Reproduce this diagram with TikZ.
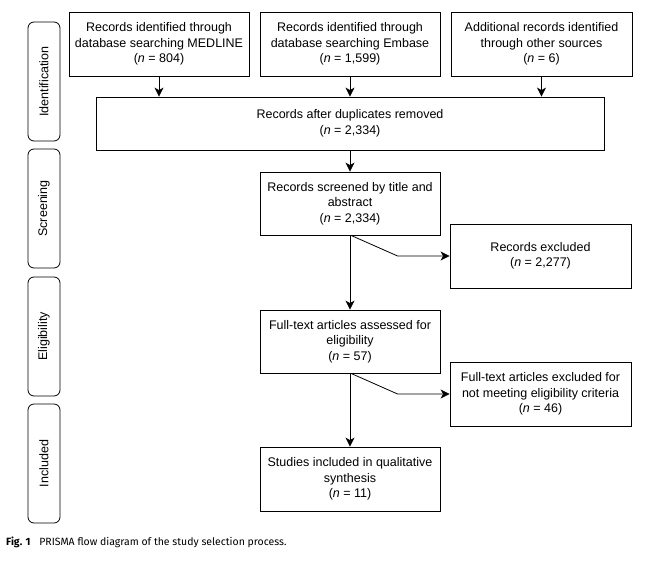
\documentclass[tikz,border=0pt]{standalone}
\usepackage{fontspec}
\setmainfont{Liberation Sans}
\newfontfamily\capfont{Fira Sans}
\usetikzlibrary{arrows.meta}
\begin{document}
\begin{tikzpicture}[x=1pt,y=-1pt,
  box/.style={draw, line width=0.8pt, align=center, inner sep=0pt,
    font=\fontsize{12.5}{15.5}\selectfont, minimum width=180pt, minimum height=64pt},
  phase/.style={draw, line width=0.8pt, rounded corners=6pt, rotate=90, inner sep=0pt,
    font=\fontsize{12.5}{15}\selectfont, minimum width=119pt, minimum height=32pt},
  arr/.style={-{Stealth[length=9pt,width=9pt,inset=2.5pt]}, line width=0.8pt},
]
\useasboundingbox (0,0) rectangle (647,562);

% phase labels
\node[phase] (pid)  at (44,81.5)  {Identification};
\node[phase] (pscr) at (44,208.5) {Screening};
\node[phase] (pel)  at (44,336.5) {Eligibility};
\node[phase] (pinc) at (44,463.5) {Included};

% boxes
\node[box] (b1) at (159,44) {Records identified through\\database searching MEDLINE\\(\textit{n} = 804)};
\node[box] (b2) at (350,44) {Records identified through\\database searching Embase\\(\textit{n} = 1,599)};
\node[box, minimum width=181pt] (b3) at (541.5,44) {Additional records identified\\through other sources\\(\textit{n} = 6)};
\node[box, minimum width=508pt, minimum height=53pt] (dup) at (350,123.5) {Records after duplicates removed\\(\textit{n} = 2,334)};
\node[box, minimum height=63pt] (scr) at (350,203.5) {Records screened by title and\\abstract\\(\textit{n} = 2,334)};
\node[box, minimum width=181pt] (exc) at (540.5,256) {Records excluded\\(\textit{n} = 2,277)};
\node[box, minimum height=63pt] (ft) at (350,341.5) {Full-text articles assessed for\\eligibility\\(\textit{n} = 57)};
\node[box, minimum width=181pt] (exc2) at (540.5,394) {Full-text articles excluded for\\not meeting eligibility criteria\\(\textit{n} = 46)};
\node[box] (inc) at (350,479) {Studies included in qualitative\\synthesis\\(\textit{n} = 11)};

% connectors
\draw[arr] (b1.south) -- (b1.south |- dup.north);
\draw[arr] (b2.south) -- (b2.south |- dup.north);
\draw[arr] (b3.south) -- (b3.south |- dup.north);
\draw[arr] (dup.south) -- (scr.north);
\draw[arr] (scr.south) -- (ft.north);
\draw[arr] ([xshift=1pt]scr.south) -- ([xshift=-52pt]exc.west) -- (exc.west);
\draw[arr] (ft.south) -- (inc.north);
\draw[arr] ([xshift=1pt]ft.south) -- ([xshift=-52pt]exc2.west) -- (exc2.west);

% caption
\node[anchor=base west, inner sep=0pt, font=\capfont\fontsize{10.5}{12}\selectfont] (cap) at (6,545)
  {\textbf{Fig. 1}\hspace{0.85em}PRISMA flow diagram of the study selection process.};
\end{tikzpicture}
\end{document}
